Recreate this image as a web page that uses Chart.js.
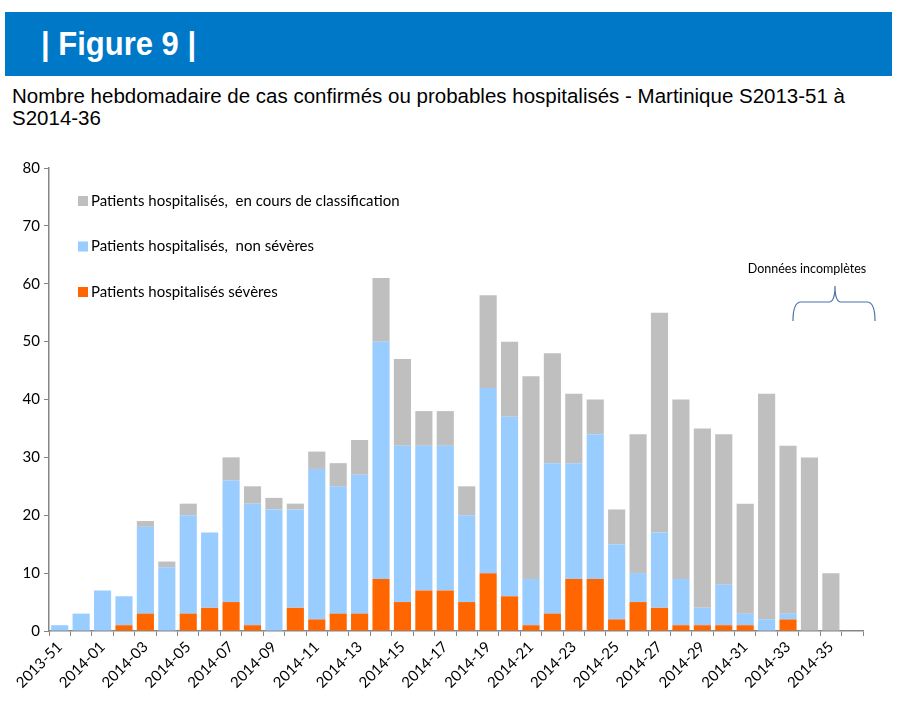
<!DOCTYPE html>
<html>
<head>
<meta charset="utf-8">
<script src="https://cdn.jsdelivr.net/npm/chart.js@4"></script>
<style>
  body { margin: 0; background: #fff; width: 900px; height: 711px; position: relative; overflow: hidden; }
  #bandeau { position: absolute; left: 5px; top: 12px; width: 887px; height: 64px; background: #0078c8; }
  #bandeau span { position: absolute; left: 36px; top: 14px; color: #fff; font: bold 31px "Liberation Sans", Arial, sans-serif; transform: scaleY(1.08); transform-origin: left center; }
  #soustitre { position: absolute; left: 12px; top: 85px; font: 20.5px "Liberation Sans", Arial, sans-serif; line-height: 22px; color: #000; }
  #zone { position: absolute; left: 0; top: 150px; width: 900px; height: 561px; }
</style>
</head>
<body>
<div id="bandeau"><span>| Figure 9 |</span></div>
<div id="soustitre">Nombre hebdomadaire de cas confirmés ou probables hospitalisés - Martinique S2013-51 à<br>S2014-36</div>
<div id="zone"><canvas id="graphe"></canvas></div>
<script>
// semaines S2013-51 a S2014-36
const semaines = ["2013-51", "2013-52"];
for (let s = 1; s <= 36; s++) semaines.push("2014-" + String(s).padStart(2, "0"));

const severes = [0, 0, 0, 1, 3, 0, 3, 4, 5, 1, 0, 4, 2, 3, 3, 9, 5, 7, 7, 5,
  10, 6, 1, 3, 9, 9, 2, 5, 4, 1, 1, 1, 1, 0, 2, 0, 0, 0];
const nonSeveres = [1, 3, 7, 5, 15, 11, 17, 13, 21, 21, 21, 17, 26, 22, 24, 41, 27, 25, 25, 15,
  32, 31, 8, 26, 20, 25, 13, 5, 13, 8, 3, 7, 2, 2, 1, 0, 0, 0];
const enCours = [0, 0, 0, 0, 1, 1, 2, 0, 4, 3, 2, 1, 3, 4, 6, 11, 15, 6, 6, 5,
  16, 13, 35, 19, 12, 6, 6, 24, 38, 31, 31, 26, 19, 39, 29, 30, 10, 0];

const yTicks = [0, 10, 20, 30, 40, 50, 60, 70, 80];

const policeCalibri = "Lato, 'Open Sans', sans-serif";

// legende dessinee dans la zone du graphique
const legendeInterne = {
  id: "legendeInterne",
  afterDraw(chart) {
    const c = chart.ctx, a = chart.chartArea;
    const items = chart.data.datasets.slice().reverse();
    c.save();
    c.font = "15px " + policeCalibri;
    c.textBaseline = "middle";
    items.forEach((ds, i) => {
      const y = a.top + 33 + i * 45.5;
      c.fillStyle = ds.backgroundColor;
      c.fillRect(a.left + 29, y - 5, 10, 10);
      c.fillStyle = "#000";
      c.fillText(ds.label, a.left + 42, y);
    });
    c.restore();
  }
};

// accolade "Donnees incompletes"
const accolade = {
  id: "accolade",
  afterDraw(chart) {
    const c = chart.ctx, a = chart.chartArea;
    const x0 = 793, x1 = 875, xm = 835;
    const yl = a.top + 134;
    c.save();
    c.strokeStyle = "#4a72a8";
    c.lineWidth = 1.2;
    c.beginPath();
    c.moveTo(x0, yl + 19);
    c.quadraticCurveTo(x0, yl, x0 + 8, yl);
    c.lineTo(xm - 6, yl);
    c.quadraticCurveTo(xm, yl, xm, yl - 16);
    c.quadraticCurveTo(xm, yl, xm + 6, yl);
    c.lineTo(x1 - 8, yl);
    c.quadraticCurveTo(x1, yl, x1, yl + 19);
    c.stroke();
    c.fillStyle = "#000";
    c.font = "12.5px " + policeCalibri;
    c.textAlign = "center";
    c.textBaseline = "middle";
    c.fillText("Données incomplètes", 807, a.top + 101);
    c.restore();
  }
};

new Chart(document.getElementById("graphe"), {
  type: "bar",
  data: {
    labels: semaines,
    datasets: [
      { label: "Patients hospitalisés sévères", data: severes, backgroundColor: "#ff6600" },
      { label: "Patients hospitalisés,  non sévères", data: nonSeveres, backgroundColor: "#99ccff" },
      { label: "Patients hospitalisés,  en cours de classification", data: enCours, backgroundColor: "#bfbfbf" }
    ]
  },
  options: {
    responsive: true,
    maintainAspectRatio: false,
    animation: false,
    layout: { padding: { top: 18, right: 37, left: 0, bottom: 0 } },
    datasets: { bar: { barPercentage: 0.8, categoryPercentage: 1.0 } },
    plugins: { legend: { display: false }, tooltip: { enabled: false } },
    scales: {
      x: {
        stacked: true,
        afterFit(s) { s.height = 80; },
        grid: { offset: true, drawOnChartArea: false, drawTicks: true, tickLength: 5, tickColor: "#868686" },
        border: { color: "#868686", width: 1.5 },
        ticks: {
          autoSkip: false,
          maxRotation: 45,
          minRotation: 45,
          padding: 2,
          color: "#000",
          font: { family: policeCalibri, size: 15 },
          callback: (v, i) => (i % 2 === 0 ? semaines[i] : "")
        }
      },
      y: {
        stacked: true,
        min: 0,
        max: 80,
        afterFit(s) { s.width = 49; },
        afterBuildTicks(s) { s.ticks = yTicks.map(v => ({ value: v })); },
        grid: { drawOnChartArea: false, drawTicks: true, tickLength: 5, tickColor: "#868686" },
        border: { color: "#868686", width: 1.5 },
        ticks: { padding: 4, color: "#000", font: { family: policeCalibri, size: 15 } }
      }
    }
  },
  plugins: [legendeInterne, accolade]
});
</script>
</body>
</html>
